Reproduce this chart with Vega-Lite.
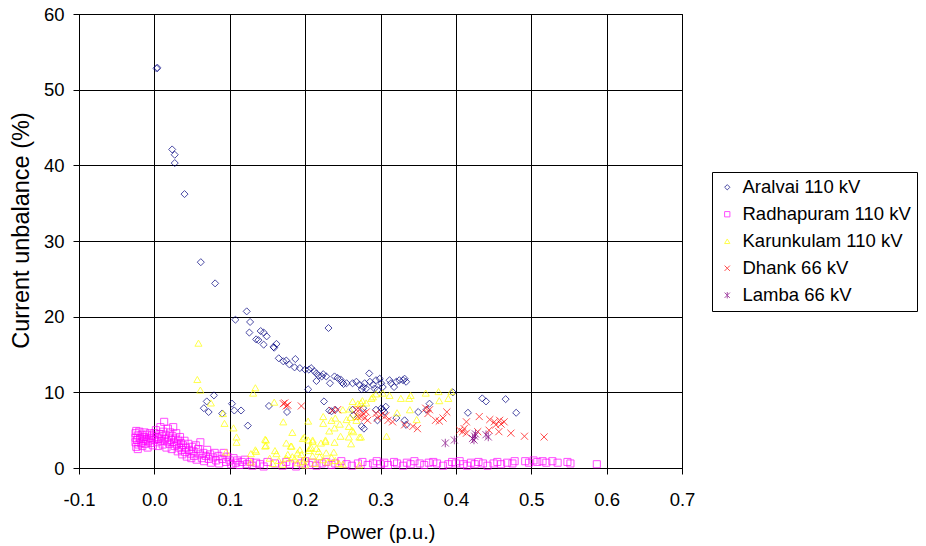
{
  "$schema": "https://vega.github.io/schema/vega-lite/v6.json",
  "width": 603,
  "height": 454,
  "autosize": "none",
  "padding": {"left": 79, "top": 14, "right": 244, "bottom": 78},
  "background": "white",
  "config": {
    "font": "Liberation Sans",
    "view": {"stroke": "#000000", "strokeWidth": 1},
    "axis": {
      "domainColor": "#000000",
      "tickColor": "#000000",
      "tickSize": 6,
      "gridColor": "#000000",
      "gridOpacity": 1,
      "gridWidth": 1,
      "labelFontSize": 18.5,
      "labelColor": "#000000",
      "titleFontWeight": "normal",
      "titleColor": "#000000",
      "labelFont": "Liberation Sans",
      "titleFont": "Liberation Sans"
    }
  },
  "data": {
    "values": [
      {"s":"Aralvai 110 kV","x":0.003,"y":52.8},{"s":"Aralvai 110 kV","x":0.004,"y":52.9},{"s":"Aralvai 110 kV","x":0.0236,"y":42.1},{"s":"Aralvai 110 kV","x":0.027,"y":41.4},{"s":"Aralvai 110 kV","x":0.027,"y":40.3},{"s":"Aralvai 110 kV","x":0.04,"y":36.2},{"s":"Aralvai 110 kV","x":0.0616,"y":27.2},{"s":"Aralvai 110 kV","x":0.0806,"y":24.4},{"s":"Aralvai 110 kV","x":0.1225,"y":20.7},{"s":"Aralvai 110 kV","x":0.1075,"y":19.6},{"s":"Aralvai 110 kV","x":0.127,"y":19.3},{"s":"Aralvai 110 kV","x":0.126,"y":17.9},{"s":"Aralvai 110 kV","x":0.141,"y":18.1},{"s":"Aralvai 110 kV","x":0.145,"y":17.9},{"s":"Aralvai 110 kV","x":0.149,"y":17.4},{"s":"Aralvai 110 kV","x":0.135,"y":17.0},{"s":"Aralvai 110 kV","x":0.138,"y":16.9},{"s":"Aralvai 110 kV","x":0.145,"y":16.3},{"s":"Aralvai 110 kV","x":0.158,"y":16.0},{"s":"Aralvai 110 kV","x":0.162,"y":16.4},{"s":"Aralvai 110 kV","x":0.159,"y":15.9},{"s":"Aralvai 110 kV","x":0.165,"y":14.5},{"s":"Aralvai 110 kV","x":0.171,"y":14.1},{"s":"Aralvai 110 kV","x":0.175,"y":14.2},{"s":"Aralvai 110 kV","x":0.179,"y":13.7},{"s":"Aralvai 110 kV","x":0.187,"y":14.4},{"s":"Aralvai 110 kV","x":0.186,"y":13.3},{"s":"Aralvai 110 kV","x":0.193,"y":13.2},{"s":"Aralvai 110 kV","x":0.2,"y":13.0},{"s":"Aralvai 110 kV","x":0.205,"y":13.0},{"s":"Aralvai 110 kV","x":0.208,"y":13.2},{"s":"Aralvai 110 kV","x":0.212,"y":12.8},{"s":"Aralvai 110 kV","x":0.215,"y":12.5},{"s":"Aralvai 110 kV","x":0.218,"y":12.2},{"s":"Aralvai 110 kV","x":0.215,"y":11.5},{"s":"Aralvai 110 kV","x":0.224,"y":12.4},{"s":"Aralvai 110 kV","x":0.228,"y":12.1},{"s":"Aralvai 110 kV","x":0.222,"y":12.1},{"s":"Aralvai 110 kV","x":0.231,"y":18.5},{"s":"Aralvai 110 kV","x":0.233,"y":11.2},{"s":"Aralvai 110 kV","x":0.239,"y":12.1},{"s":"Aralvai 110 kV","x":0.243,"y":11.9},{"s":"Aralvai 110 kV","x":0.247,"y":11.7},{"s":"Aralvai 110 kV","x":0.249,"y":11.3},{"s":"Aralvai 110 kV","x":0.251,"y":11.1},{"s":"Aralvai 110 kV","x":0.255,"y":11.2},{"s":"Aralvai 110 kV","x":0.263,"y":11.2},{"s":"Aralvai 110 kV","x":0.268,"y":11.4},{"s":"Aralvai 110 kV","x":0.272,"y":11.0},{"s":"Aralvai 110 kV","x":0.277,"y":10.7},{"s":"Aralvai 110 kV","x":0.279,"y":11.2},{"s":"Aralvai 110 kV","x":0.281,"y":10.5},{"s":"Aralvai 110 kV","x":0.285,"y":12.5},{"s":"Aralvai 110 kV","x":0.286,"y":11.4},{"s":"Aralvai 110 kV","x":0.29,"y":11.0},{"s":"Aralvai 110 kV","x":0.292,"y":10.5},{"s":"Aralvai 110 kV","x":0.294,"y":11.6},{"s":"Aralvai 110 kV","x":0.299,"y":11.8},{"s":"Aralvai 110 kV","x":0.301,"y":11.2},{"s":"Aralvai 110 kV","x":0.303,"y":10.7},{"s":"Aralvai 110 kV","x":0.296,"y":10.3},{"s":"Aralvai 110 kV","x":0.312,"y":11.6},{"s":"Aralvai 110 kV","x":0.314,"y":11.2},{"s":"Aralvai 110 kV","x":0.318,"y":10.7},{"s":"Aralvai 110 kV","x":0.321,"y":11.4},{"s":"Aralvai 110 kV","x":0.325,"y":11.6},{"s":"Aralvai 110 kV","x":0.33,"y":11.6},{"s":"Aralvai 110 kV","x":0.332,"y":11.8},{"s":"Aralvai 110 kV","x":0.334,"y":11.4},{"s":"Aralvai 110 kV","x":0.275,"y":10.4},{"s":"Aralvai 110 kV","x":0.396,"y":10.0},{"s":"Aralvai 110 kV","x":0.079,"y":9.6},{"s":"Aralvai 110 kV","x":0.0695,"y":8.8},{"s":"Aralvai 110 kV","x":0.0656,"y":7.9},{"s":"Aralvai 110 kV","x":0.072,"y":7.4},{"s":"Aralvai 110 kV","x":0.09,"y":7.2},{"s":"Aralvai 110 kV","x":0.103,"y":8.5},{"s":"Aralvai 110 kV","x":0.106,"y":7.6},{"s":"Aralvai 110 kV","x":0.115,"y":7.6},{"s":"Aralvai 110 kV","x":0.124,"y":5.6},{"s":"Aralvai 110 kV","x":0.152,"y":8.2},{"s":"Aralvai 110 kV","x":0.176,"y":7.4},{"s":"Aralvai 110 kV","x":0.204,"y":10.4},{"s":"Aralvai 110 kV","x":0.225,"y":8.8},{"s":"Aralvai 110 kV","x":0.232,"y":7.6},{"s":"Aralvai 110 kV","x":0.235,"y":7.5},{"s":"Aralvai 110 kV","x":0.24,"y":7.7},{"s":"Aralvai 110 kV","x":0.275,"y":5.5},{"s":"Aralvai 110 kV","x":0.263,"y":7.7},{"s":"Aralvai 110 kV","x":0.264,"y":7.0},{"s":"Aralvai 110 kV","x":0.277,"y":7.9},{"s":"Aralvai 110 kV","x":0.278,"y":5.2},{"s":"Aralvai 110 kV","x":0.294,"y":7.7},{"s":"Aralvai 110 kV","x":0.301,"y":7.9},{"s":"Aralvai 110 kV","x":0.303,"y":7.7},{"s":"Aralvai 110 kV","x":0.305,"y":7.4},{"s":"Aralvai 110 kV","x":0.307,"y":8.1},{"s":"Aralvai 110 kV","x":0.296,"y":6.3},{"s":"Aralvai 110 kV","x":0.321,"y":6.6},{"s":"Aralvai 110 kV","x":0.332,"y":6.3},{"s":"Aralvai 110 kV","x":0.334,"y":5.7},{"s":"Aralvai 110 kV","x":0.35,"y":7.4},{"s":"Aralvai 110 kV","x":0.365,"y":8.5},{"s":"Aralvai 110 kV","x":0.361,"y":7.7},{"s":"Aralvai 110 kV","x":0.435,"y":9.2},{"s":"Aralvai 110 kV","x":0.44,"y":8.8},{"s":"Aralvai 110 kV","x":0.466,"y":9.1},{"s":"Aralvai 110 kV","x":0.416,"y":7.3},{"s":"Aralvai 110 kV","x":0.48,"y":7.3},
      {"s":"Radhapuram 110 kV","x":-0.025,"y":4.6},{"s":"Radhapuram 110 kV","x":-0.025,"y":4.0},{"s":"Radhapuram 110 kV","x":-0.025,"y":3.4},{"s":"Radhapuram 110 kV","x":-0.024,"y":2.8},{"s":"Radhapuram 110 kV","x":-0.024,"y":4.9},{"s":"Radhapuram 110 kV","x":-0.023,"y":3.7},{"s":"Radhapuram 110 kV","x":-0.022,"y":4.3},{"s":"Radhapuram 110 kV","x":-0.022,"y":2.5},{"s":"Radhapuram 110 kV","x":-0.021,"y":3.1},{"s":"Radhapuram 110 kV","x":-0.02,"y":4.8},{"s":"Radhapuram 110 kV","x":-0.019,"y":3.9},{"s":"Radhapuram 110 kV","x":-0.018,"y":3.3},{"s":"Radhapuram 110 kV","x":-0.017,"y":4.4},{"s":"Radhapuram 110 kV","x":-0.016,"y":2.9},{"s":"Radhapuram 110 kV","x":-0.015,"y":3.6},{"s":"Radhapuram 110 kV","x":-0.014,"y":4.1},{"s":"Radhapuram 110 kV","x":-0.013,"y":4.7},{"s":"Radhapuram 110 kV","x":-0.012,"y":3.2},{"s":"Radhapuram 110 kV","x":-0.011,"y":3.8},{"s":"Radhapuram 110 kV","x":-0.01,"y":4.4},{"s":"Radhapuram 110 kV","x":-0.009,"y":2.7},{"s":"Radhapuram 110 kV","x":-0.008,"y":3.5},{"s":"Radhapuram 110 kV","x":-0.007,"y":4.0},{"s":"Radhapuram 110 kV","x":-0.006,"y":4.6},{"s":"Radhapuram 110 kV","x":-0.005,"y":3.3},{"s":"Radhapuram 110 kV","x":-0.004,"y":3.9},{"s":"Radhapuram 110 kV","x":-0.003,"y":4.3},{"s":"Radhapuram 110 kV","x":-0.002,"y":3.0},{"s":"Radhapuram 110 kV","x":0.0,"y":3.7},{"s":"Radhapuram 110 kV","x":0.0,"y":4.6},{"s":"Radhapuram 110 kV","x":0.002,"y":5.0},{"s":"Radhapuram 110 kV","x":0.003,"y":4.1},{"s":"Radhapuram 110 kV","x":0.004,"y":3.4},{"s":"Radhapuram 110 kV","x":0.005,"y":2.9},{"s":"Radhapuram 110 kV","x":0.006,"y":3.9},{"s":"Radhapuram 110 kV","x":0.007,"y":4.5},{"s":"Radhapuram 110 kV","x":0.008,"y":5.4},{"s":"Radhapuram 110 kV","x":0.009,"y":3.6},{"s":"Radhapuram 110 kV","x":0.01,"y":4.2},{"s":"Radhapuram 110 kV","x":0.011,"y":3.1},{"s":"Radhapuram 110 kV","x":0.012,"y":4.8},{"s":"Radhapuram 110 kV","x":0.013,"y":6.1},{"s":"Radhapuram 110 kV","x":0.014,"y":3.8},{"s":"Radhapuram 110 kV","x":0.015,"y":4.4},{"s":"Radhapuram 110 kV","x":0.016,"y":2.7},{"s":"Radhapuram 110 kV","x":0.017,"y":3.5},{"s":"Radhapuram 110 kV","x":0.018,"y":5.2},{"s":"Radhapuram 110 kV","x":0.019,"y":4.0},{"s":"Radhapuram 110 kV","x":0.02,"y":3.2},{"s":"Radhapuram 110 kV","x":0.021,"y":4.7},{"s":"Radhapuram 110 kV","x":0.022,"y":3.7},{"s":"Radhapuram 110 kV","x":0.023,"y":2.5},{"s":"Radhapuram 110 kV","x":0.024,"y":4.2},{"s":"Radhapuram 110 kV","x":0.025,"y":5.4},{"s":"Radhapuram 110 kV","x":0.026,"y":3.4},{"s":"Radhapuram 110 kV","x":0.027,"y":2.9},{"s":"Radhapuram 110 kV","x":0.028,"y":3.9},{"s":"Radhapuram 110 kV","x":0.029,"y":4.6},{"s":"Radhapuram 110 kV","x":0.03,"y":3.1},{"s":"Radhapuram 110 kV","x":0.031,"y":2.2},{"s":"Radhapuram 110 kV","x":0.032,"y":3.6},{"s":"Radhapuram 110 kV","x":0.033,"y":2.7},{"s":"Radhapuram 110 kV","x":0.034,"y":4.1},{"s":"Radhapuram 110 kV","x":0.035,"y":3.3},{"s":"Radhapuram 110 kV","x":0.036,"y":2.4},{"s":"Radhapuram 110 kV","x":0.037,"y":1.8},{"s":"Radhapuram 110 kV","x":0.038,"y":3.0},{"s":"Radhapuram 110 kV","x":0.04,"y":3.6},{"s":"Radhapuram 110 kV","x":0.041,"y":2.1},{"s":"Radhapuram 110 kV","x":0.042,"y":2.7},{"s":"Radhapuram 110 kV","x":0.043,"y":1.5},{"s":"Radhapuram 110 kV","x":0.045,"y":3.2},{"s":"Radhapuram 110 kV","x":0.046,"y":2.4},{"s":"Radhapuram 110 kV","x":0.048,"y":1.9},{"s":"Radhapuram 110 kV","x":0.049,"y":1.3},{"s":"Radhapuram 110 kV","x":0.05,"y":2.8},{"s":"Radhapuram 110 kV","x":0.052,"y":2.2},{"s":"Radhapuram 110 kV","x":0.053,"y":1.6},{"s":"Radhapuram 110 kV","x":0.055,"y":3.0},{"s":"Radhapuram 110 kV","x":0.056,"y":1.1},{"s":"Radhapuram 110 kV","x":0.058,"y":2.5},{"s":"Radhapuram 110 kV","x":0.06,"y":1.8},{"s":"Radhapuram 110 kV","x":0.061,"y":3.4},{"s":"Radhapuram 110 kV","x":0.063,"y":1.3},{"s":"Radhapuram 110 kV","x":0.065,"y":2.0},{"s":"Radhapuram 110 kV","x":0.066,"y":0.9},{"s":"Radhapuram 110 kV","x":0.068,"y":1.6},{"s":"Radhapuram 110 kV","x":0.07,"y":2.4},{"s":"Radhapuram 110 kV","x":0.072,"y":1.2},{"s":"Radhapuram 110 kV","x":0.074,"y":1.8},{"s":"Radhapuram 110 kV","x":0.075,"y":0.7},{"s":"Radhapuram 110 kV","x":0.078,"y":1.4},{"s":"Radhapuram 110 kV","x":0.08,"y":2.0},{"s":"Radhapuram 110 kV","x":0.082,"y":1.0},{"s":"Radhapuram 110 kV","x":0.085,"y":1.6},{"s":"Radhapuram 110 kV","x":0.086,"y":0.6},{"s":"Radhapuram 110 kV","x":0.09,"y":1.2},{"s":"Radhapuram 110 kV","x":0.092,"y":2.0},{"s":"Radhapuram 110 kV","x":0.095,"y":0.8},{"s":"Radhapuram 110 kV","x":0.097,"y":1.5},{"s":"Radhapuram 110 kV","x":0.1,"y":1.0},{"s":"Radhapuram 110 kV","x":0.102,"y":0.5},{"s":"Radhapuram 110 kV","x":0.105,"y":1.3},{"s":"Radhapuram 110 kV","x":0.108,"y":0.7},{"s":"Radhapuram 110 kV","x":0.11,"y":1.0},{"s":"Radhapuram 110 kV","x":0.113,"y":0.4},{"s":"Radhapuram 110 kV","x":0.116,"y":0.8},{"s":"Radhapuram 110 kV","x":0.12,"y":1.1},{"s":"Radhapuram 110 kV","x":0.123,"y":0.5},{"s":"Radhapuram 110 kV","x":0.127,"y":0.8},{"s":"Radhapuram 110 kV","x":0.13,"y":0.3},{"s":"Radhapuram 110 kV","x":0.135,"y":0.7},{"s":"Radhapuram 110 kV","x":0.14,"y":0.5},{"s":"Radhapuram 110 kV","x":0.145,"y":0.2},{"s":"Radhapuram 110 kV","x":0.15,"y":0.8},{"s":"Radhapuram 110 kV","x":0.16,"y":0.6},{"s":"Radhapuram 110 kV","x":0.17,"y":0.3},{"s":"Radhapuram 110 kV","x":0.175,"y":0.8},{"s":"Radhapuram 110 kV","x":0.18,"y":0.5},{"s":"Radhapuram 110 kV","x":0.188,"y":0.2},{"s":"Radhapuram 110 kV","x":0.195,"y":0.6},{"s":"Radhapuram 110 kV","x":0.2,"y":0.9},{"s":"Radhapuram 110 kV","x":0.205,"y":0.4},{"s":"Radhapuram 110 kV","x":0.21,"y":0.7},{"s":"Radhapuram 110 kV","x":0.215,"y":0.3},{"s":"Radhapuram 110 kV","x":0.222,"y":0.6},{"s":"Radhapuram 110 kV","x":0.228,"y":0.8},{"s":"Radhapuram 110 kV","x":0.235,"y":0.4},{"s":"Radhapuram 110 kV","x":0.24,"y":0.6},{"s":"Radhapuram 110 kV","x":0.248,"y":0.9},{"s":"Radhapuram 110 kV","x":0.255,"y":0.5},{"s":"Radhapuram 110 kV","x":0.262,"y":0.3},{"s":"Radhapuram 110 kV","x":0.27,"y":0.6},{"s":"Radhapuram 110 kV","x":0.276,"y":0.8},{"s":"Radhapuram 110 kV","x":0.283,"y":0.4},{"s":"Radhapuram 110 kV","x":0.29,"y":0.6},{"s":"Radhapuram 110 kV","x":0.295,"y":0.9},{"s":"Radhapuram 110 kV","x":0.3,"y":0.5},{"s":"Radhapuram 110 kV","x":0.305,"y":0.7},{"s":"Radhapuram 110 kV","x":0.31,"y":0.4},{"s":"Radhapuram 110 kV","x":0.318,"y":0.8},{"s":"Radhapuram 110 kV","x":0.322,"y":0.6},{"s":"Radhapuram 110 kV","x":0.33,"y":0.3},{"s":"Radhapuram 110 kV","x":0.335,"y":0.7},{"s":"Radhapuram 110 kV","x":0.34,"y":0.5},{"s":"Radhapuram 110 kV","x":0.345,"y":0.9},{"s":"Radhapuram 110 kV","x":0.352,"y":0.6},{"s":"Radhapuram 110 kV","x":0.358,"y":0.4},{"s":"Radhapuram 110 kV","x":0.364,"y":0.7},{"s":"Radhapuram 110 kV","x":0.37,"y":0.8},{"s":"Radhapuram 110 kV","x":0.375,"y":0.6},{"s":"Radhapuram 110 kV","x":0.383,"y":0.3},{"s":"Radhapuram 110 kV","x":0.39,"y":0.5},{"s":"Radhapuram 110 kV","x":0.395,"y":0.8},{"s":"Radhapuram 110 kV","x":0.4,"y":0.6},{"s":"Radhapuram 110 kV","x":0.405,"y":0.9},{"s":"Radhapuram 110 kV","x":0.41,"y":0.5},{"s":"Radhapuram 110 kV","x":0.415,"y":0.3},{"s":"Radhapuram 110 kV","x":0.42,"y":0.7},{"s":"Radhapuram 110 kV","x":0.425,"y":0.5},{"s":"Radhapuram 110 kV","x":0.43,"y":0.8},{"s":"Radhapuram 110 kV","x":0.436,"y":0.6},{"s":"Radhapuram 110 kV","x":0.442,"y":0.3},{"s":"Radhapuram 110 kV","x":0.45,"y":0.6},{"s":"Radhapuram 110 kV","x":0.455,"y":0.8},{"s":"Radhapuram 110 kV","x":0.46,"y":0.5},{"s":"Radhapuram 110 kV","x":0.468,"y":0.7},{"s":"Radhapuram 110 kV","x":0.475,"y":0.6},{"s":"Radhapuram 110 kV","x":0.478,"y":0.9},{"s":"Radhapuram 110 kV","x":0.492,"y":0.9},{"s":"Radhapuram 110 kV","x":0.497,"y":0.7},{"s":"Radhapuram 110 kV","x":0.503,"y":1.0},{"s":"Radhapuram 110 kV","x":0.508,"y":0.8},{"s":"Radhapuram 110 kV","x":0.515,"y":0.9},{"s":"Radhapuram 110 kV","x":0.52,"y":0.7},{"s":"Radhapuram 110 kV","x":0.528,"y":0.9},{"s":"Radhapuram 110 kV","x":0.535,"y":0.7},{"s":"Radhapuram 110 kV","x":0.548,"y":0.8},{"s":"Radhapuram 110 kV","x":0.552,"y":0.6},{"s":"Radhapuram 110 kV","x":0.587,"y":0.5},
      {"s":"Karunkulam 110 kV","x":0.0585,"y":16.5},{"s":"Karunkulam 110 kV","x":0.057,"y":11.7},{"s":"Karunkulam 110 kV","x":0.061,"y":10.3},{"s":"Karunkulam 110 kV","x":0.075,"y":8.6},{"s":"Karunkulam 110 kV","x":0.091,"y":7.2},{"s":"Karunkulam 110 kV","x":0.093,"y":5.9},{"s":"Karunkulam 110 kV","x":0.105,"y":5.3},{"s":"Karunkulam 110 kV","x":0.109,"y":4.1},{"s":"Karunkulam 110 kV","x":0.109,"y":3.4},{"s":"Karunkulam 110 kV","x":0.095,"y":2.1},{"s":"Karunkulam 110 kV","x":0.131,"y":9.9},{"s":"Karunkulam 110 kV","x":0.134,"y":10.6},{"s":"Karunkulam 110 kV","x":0.128,"y":1.9},{"s":"Karunkulam 110 kV","x":0.135,"y":2.2},{"s":"Karunkulam 110 kV","x":0.128,"y":0.8},{"s":"Karunkulam 110 kV","x":0.148,"y":3.7},{"s":"Karunkulam 110 kV","x":0.148,"y":3.0},{"s":"Karunkulam 110 kV","x":0.159,"y":8.7},{"s":"Karunkulam 110 kV","x":0.171,"y":6.1},{"s":"Karunkulam 110 kV","x":0.183,"y":4.7},{"s":"Karunkulam 110 kV","x":0.175,"y":3.3},{"s":"Karunkulam 110 kV","x":0.181,"y":2.9},{"s":"Karunkulam 110 kV","x":0.199,"y":4.1},{"s":"Karunkulam 110 kV","x":0.204,"y":6.2},{"s":"Karunkulam 110 kV","x":0.21,"y":3.5},{"s":"Karunkulam 110 kV","x":0.208,"y":2.7},{"s":"Karunkulam 110 kV","x":0.205,"y":2.3},{"s":"Karunkulam 110 kV","x":0.224,"y":6.8},{"s":"Karunkulam 110 kV","x":0.224,"y":5.9},{"s":"Karunkulam 110 kV","x":0.227,"y":3.5},{"s":"Karunkulam 110 kV","x":0.235,"y":6.3},{"s":"Karunkulam 110 kV","x":0.239,"y":5.3},{"s":"Karunkulam 110 kV","x":0.232,"y":4.9},{"s":"Karunkulam 110 kV","x":0.239,"y":3.4},{"s":"Karunkulam 110 kV","x":0.238,"y":2.1},{"s":"Karunkulam 110 kV","x":0.247,"y":4.2},{"s":"Karunkulam 110 kV","x":0.258,"y":4.1},{"s":"Karunkulam 110 kV","x":0.261,"y":3.2},{"s":"Karunkulam 110 kV","x":0.258,"y":5.5},{"s":"Karunkulam 110 kV","x":0.264,"y":4.8},{"s":"Karunkulam 110 kV","x":0.272,"y":4.1},{"s":"Karunkulam 110 kV","x":0.25,"y":7.7},{"s":"Karunkulam 110 kV","x":0.259,"y":7.8},{"s":"Karunkulam 110 kV","x":0.27,"y":8.5},{"s":"Karunkulam 110 kV","x":0.274,"y":8.6},{"s":"Karunkulam 110 kV","x":0.281,"y":8.6},{"s":"Karunkulam 110 kV","x":0.29,"y":9.4},{"s":"Karunkulam 110 kV","x":0.294,"y":9.8},{"s":"Karunkulam 110 kV","x":0.24,"y":6.6},{"s":"Karunkulam 110 kV","x":0.246,"y":5.8},{"s":"Karunkulam 110 kV","x":0.255,"y":6.4},{"s":"Karunkulam 110 kV","x":0.26,"y":6.7},{"s":"Karunkulam 110 kV","x":0.268,"y":6.3},{"s":"Karunkulam 110 kV","x":0.263,"y":8.8},{"s":"Karunkulam 110 kV","x":0.276,"y":8.9},{"s":"Karunkulam 110 kV","x":0.288,"y":9.2},{"s":"Karunkulam 110 kV","x":0.303,"y":9.9},{"s":"Karunkulam 110 kV","x":0.312,"y":9.6},{"s":"Karunkulam 110 kV","x":0.327,"y":9.2},{"s":"Karunkulam 110 kV","x":0.338,"y":9.2},{"s":"Karunkulam 110 kV","x":0.34,"y":9.6},{"s":"Karunkulam 110 kV","x":0.36,"y":9.9},{"s":"Karunkulam 110 kV","x":0.377,"y":10.1},{"s":"Karunkulam 110 kV","x":0.378,"y":8.9},{"s":"Karunkulam 110 kV","x":0.39,"y":9.2},{"s":"Karunkulam 110 kV","x":0.394,"y":10.1},{"s":"Karunkulam 110 kV","x":0.322,"y":7.3},{"s":"Karunkulam 110 kV","x":0.339,"y":7.7},{"s":"Karunkulam 110 kV","x":0.348,"y":6.4},{"s":"Karunkulam 110 kV","x":0.308,"y":4.2},{"s":"Karunkulam 110 kV","x":0.274,"y":4.1},{"s":"Karunkulam 110 kV","x":0.262,"y":5.0},{"s":"Karunkulam 110 kV","x":0.268,"y":6.8},{"s":"Karunkulam 110 kV","x":0.272,"y":0.4},{"s":"Karunkulam 110 kV","x":0.147,"y":3.8},{"s":"Karunkulam 110 kV","x":0.147,"y":2.9},{"s":"Karunkulam 110 kV","x":0.134,"y":2.4},{"s":"Karunkulam 110 kV","x":0.182,"y":2.9},{"s":"Karunkulam 110 kV","x":0.177,"y":1.8},{"s":"Karunkulam 110 kV","x":0.162,"y":1.9},{"s":"Karunkulam 110 kV","x":0.153,"y":1.3},{"s":"Karunkulam 110 kV","x":0.157,"y":0.6},{"s":"Karunkulam 110 kV","x":0.183,"y":1.5},{"s":"Karunkulam 110 kV","x":0.197,"y":3.9},{"s":"Karunkulam 110 kV","x":0.204,"y":3.7},{"s":"Karunkulam 110 kV","x":0.21,"y":3.7},{"s":"Karunkulam 110 kV","x":0.206,"y":2.6},{"s":"Karunkulam 110 kV","x":0.193,"y":2.4},{"s":"Karunkulam 110 kV","x":0.215,"y":2.6},{"s":"Karunkulam 110 kV","x":0.219,"y":1.5},{"s":"Karunkulam 110 kV","x":0.227,"y":3.7},{"s":"Karunkulam 110 kV","x":0.221,"y":3.3},{"s":"Karunkulam 110 kV","x":0.228,"y":2.0},{"s":"Karunkulam 110 kV","x":0.224,"y":1.1},{"s":"Karunkulam 110 kV","x":0.165,"y":1.0},{"s":"Karunkulam 110 kV","x":0.17,"y":0.5},{"s":"Karunkulam 110 kV","x":0.19,"y":0.7},{"s":"Karunkulam 110 kV","x":0.195,"y":1.8},{"s":"Karunkulam 110 kV","x":0.2,"y":1.2},{"s":"Karunkulam 110 kV","x":0.2,"y":0.4},{"s":"Karunkulam 110 kV","x":0.21,"y":1.6},{"s":"Karunkulam 110 kV","x":0.213,"y":0.6},{"s":"Karunkulam 110 kV","x":0.218,"y":2.2},{"s":"Karunkulam 110 kV","x":0.23,"y":0.8},{"s":"Karunkulam 110 kV","x":0.235,"y":1.4},{"s":"Karunkulam 110 kV","x":0.245,"y":0.6},{"s":"Karunkulam 110 kV","x":0.19,"y":2.0},{"s":"Karunkulam 110 kV","x":0.186,"y":1.2},{"s":"Karunkulam 110 kV","x":0.175,"y":1.3},{"s":"Karunkulam 110 kV","x":0.16,"y":2.3},{"s":"Karunkulam 110 kV","x":0.197,"y":0.9},{"s":"Karunkulam 110 kV","x":0.24,"y":1.0},{"s":"Karunkulam 110 kV","x":0.25,"y":0.5},
      {"s":"Dhank 66 kV","x":0.171,"y":8.5},{"s":"Dhank 66 kV","x":0.175,"y":8.2},{"s":"Dhank 66 kV","x":0.177,"y":8.3},{"s":"Dhank 66 kV","x":0.173,"y":8.6},{"s":"Dhank 66 kV","x":0.195,"y":8.2},{"s":"Dhank 66 kV","x":0.243,"y":7.7},{"s":"Dhank 66 kV","x":0.236,"y":7.6},{"s":"Dhank 66 kV","x":0.268,"y":7.7},{"s":"Dhank 66 kV","x":0.27,"y":6.8},{"s":"Dhank 66 kV","x":0.272,"y":7.7},{"s":"Dhank 66 kV","x":0.277,"y":7.2},{"s":"Dhank 66 kV","x":0.281,"y":7.4},{"s":"Dhank 66 kV","x":0.279,"y":6.6},{"s":"Dhank 66 kV","x":0.274,"y":6.8},{"s":"Dhank 66 kV","x":0.283,"y":6.3},{"s":"Dhank 66 kV","x":0.294,"y":7.2},{"s":"Dhank 66 kV","x":0.301,"y":7.0},{"s":"Dhank 66 kV","x":0.296,"y":6.6},{"s":"Dhank 66 kV","x":0.307,"y":6.9},{"s":"Dhank 66 kV","x":0.31,"y":6.3},{"s":"Dhank 66 kV","x":0.316,"y":6.1},{"s":"Dhank 66 kV","x":0.332,"y":5.7},{"s":"Dhank 66 kV","x":0.343,"y":5.5},{"s":"Dhank 66 kV","x":0.349,"y":5.2},{"s":"Dhank 66 kV","x":0.36,"y":7.9},{"s":"Dhank 66 kV","x":0.365,"y":7.7},{"s":"Dhank 66 kV","x":0.363,"y":7.2},{"s":"Dhank 66 kV","x":0.373,"y":6.3},{"s":"Dhank 66 kV","x":0.378,"y":6.2},{"s":"Dhank 66 kV","x":0.383,"y":6.6},{"s":"Dhank 66 kV","x":0.388,"y":7.4},{"s":"Dhank 66 kV","x":0.431,"y":6.8},{"s":"Dhank 66 kV","x":0.445,"y":6.4},{"s":"Dhank 66 kV","x":0.451,"y":6.1},{"s":"Dhank 66 kV","x":0.458,"y":6.3},{"s":"Dhank 66 kV","x":0.464,"y":6.1},{"s":"Dhank 66 kV","x":0.453,"y":5.7},{"s":"Dhank 66 kV","x":0.46,"y":5.8},{"s":"Dhank 66 kV","x":0.414,"y":6.1},{"s":"Dhank 66 kV","x":0.411,"y":5.2},{"s":"Dhank 66 kV","x":0.409,"y":4.8},{"s":"Dhank 66 kV","x":0.405,"y":5.0},{"s":"Dhank 66 kV","x":0.414,"y":4.6},{"s":"Dhank 66 kV","x":0.429,"y":4.8},{"s":"Dhank 66 kV","x":0.444,"y":5.0},{"s":"Dhank 66 kV","x":0.457,"y":4.8},{"s":"Dhank 66 kV","x":0.473,"y":4.6},{"s":"Dhank 66 kV","x":0.491,"y":4.2},{"s":"Dhank 66 kV","x":0.517,"y":4.1},
      {"s":"Lamba 66 kV","x":0.386,"y":3.3},{"s":"Lamba 66 kV","x":0.398,"y":3.7},{"s":"Lamba 66 kV","x":0.422,"y":3.9},{"s":"Lamba 66 kV","x":0.425,"y":4.2},{"s":"Lamba 66 kV","x":0.424,"y":3.7},{"s":"Lamba 66 kV","x":0.443,"y":4.1},{"s":"Lamba 66 kV","x":0.426,"y":4.5},{"s":"Lamba 66 kV","x":0.44,"y":4.4}
    ]
  },
  "mark": {"type": "point", "filled": false, "strokeWidth": 1, "size": 50, "clip": false},
  "encoding": {
    "x": {
      "field": "x", "type": "quantitative",
      "scale": {"domain": [-0.1, 0.7], "nice": false, "zero": false},
      "axis": {
        "title": "Power (p.u.)",
        "titleFontSize": 20,
        "titleY": 70,
        "titleBaseline": "alphabetic",
        "values": [-0.1, 0, 0.1, 0.2, 0.3, 0.4, 0.5, 0.6, 0.7],
        "labelExpr": "replace(format(datum.value, '.1f'), '\u2212', '-')",
        "labelPadding": 16,
        "labelFlush": false
      }
    },
    "y": {
      "field": "y", "type": "quantitative",
      "scale": {"domain": [0, 60], "nice": false},
      "axis": {
        "title": "Current unbalance (%)",
        "titleFontSize": 23.5,
        "titleX": -46,
        "titleY": 216,
        "titleBaseline": "bottom",
        "values": [0, 10, 20, 30, 40, 50, 60],
        "labelPadding": 9,
        "labelFlush": false
      }
    },
    "color": {
      "field": "s", "type": "nominal",
      "scale": {
        "domain": ["Aralvai 110 kV", "Radhapuram 110 kV", "Karunkulam 110 kV", "Dhank 66 kV", "Lamba 66 kV"],
        "range": ["#000080", "#FF00FF", "#FFFF00", "#FF0000", "#800080"]
      },
      "legend": {
        "title": null,
        "orient": "none",
        "legendX": 633,
        "legendY": 158,
        "strokeColor": "#000000",
        "fillColor": "#ffffff",
        "padding": 6,
        "labelFontSize": 18.5,
        "labelFont": "Liberation Sans",
        "labelColor": "#000000",
        "labelLimit": 300,
        "symbolSize": 28,
        "symbolStrokeWidth": 1,
        "rowPadding": 8,
        "labelOffset": 6
      }
    },
    "shape": {
      "field": "s", "type": "nominal",
      "scale": {
        "domain": ["Aralvai 110 kV", "Radhapuram 110 kV", "Karunkulam 110 kV", "Dhank 66 kV", "Lamba 66 kV"],
        "range": ["diamond", "square", "triangle-up", "M-1,-1L1,1M-1,1L1,-1", "M-1,-1L1,1M-1,1L1,-1M0,-1.2L0,1.2"]
      },
      "legend": null
    }
  }
}
